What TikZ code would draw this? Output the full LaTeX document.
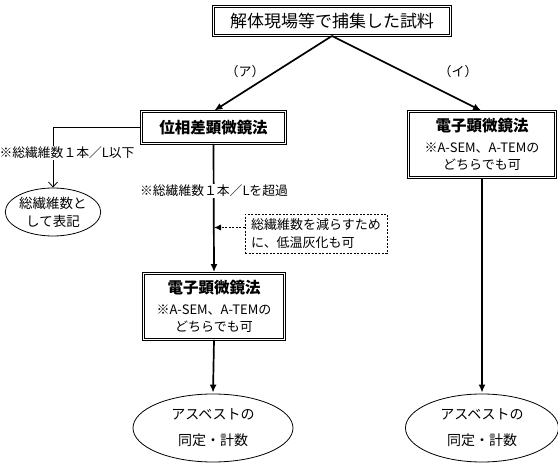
\documentclass[tikz,border=0pt]{standalone}
\usepackage{fontspec}
\setmainfont{Noto Sans CJK JP}
\usetikzlibrary{arrows.meta,shapes.geometric}
\tikzset{
	kbox/.style={draw, line width=0.9pt, double, double distance=1.3pt, align=center, inner sep=0pt},
	oval/.style={draw, ellipse, line width=0.8pt, align=center, inner sep=0pt, font=\fontsize{14}{26}\selectfont},
	memo/.style={draw, dashed, dash pattern=on 2pt off 1.5pt, line width=0.8pt, align=left, inner sep=0pt, minimum width=142, minimum height=39, font=\fontsize{13}{18}\selectfont},
	lbl/.style={fill=white, inner sep=1pt, font=\fontsize{12.8}{15}\selectfont},
	flow/.style={line width=1.7pt, -{Latex[length=8pt,width=7pt]}, shorten >=1pt},
	thin/.style={line width=0.8pt, -{Straight Barb[length=5pt,width=9pt]}},
	hint/.style={line width=0.8pt, dashed, dash pattern=on 2pt off 1.5pt, -{Latex[length=7pt,width=6pt]}}
}
\begin{document}
\begin{tikzpicture}[x=1pt,y=-1pt]
			\useasboundingbox (0,0) rectangle (558,463);
			\node[kbox, minimum width=237, minimum height=29, font=\fontsize{17}{20}\selectfont] (src) at (332,21) {解体現場等で捕集した試料};
			\node[kbox, minimum width=144, minimum height=32, font=\fontsize{15.5}{18}\selectfont\bfseries] (pcm) at (213.5,127.5) {位相差顕微鏡法};
			\node[kbox, minimum width=141, minimum height=66, font=\fontsize{13}{17.5}\selectfont] (em) at (214,306.5) {{\fontsize{15.5}{18}\selectfont\bfseries 電子顕微鏡法}\\[3pt]※A-SEM、A-TEMの\\どちらでも可};
			\node[kbox, minimum width=147, minimum height=66, font=\fontsize{13}{17.5}\selectfont] (sem) at (482,144.5) {{\fontsize{15.5}{18}\selectfont\bfseries 電子顕微鏡法}\\[3pt]※A-SEM、A-TEMの\\どちらでも可};
			\node[oval, minimum width=92, minimum height=48, font=\fontsize{13.5}{18}\selectfont] (tot) at (53,212) {総繊維数と\\して表記};
			\node[oval, minimum width=160, minimum height=68] (as1) at (213,428) {アスベストの\\同定・計数};
			\node[oval, minimum width=153, minimum height=68] (as2) at (482,428) {アスベストの\\同定・計数};
			\node[memo] (ash) at (316,233.5) {総繊維数を減らすため\\に、低温灰化も可};
			\node[font=\fontsize{13}{15}\selectfont] (ka) at (245,72) {（ア）};
			\node[font=\fontsize{13}{15}\selectfont] (ki) at (458,72) {（イ）};
			\draw[flow] (src.south) -- (pcm.north);
			\draw[flow] (src.south) -- (sem.north);
			\draw[thin] (pcm.west) -| (tot.north);
			\draw[flow] (pcm.south) -- (em.north);
			\draw[hint] ([yshift=6pt]ash.west) -- ([yshift=6pt]ash.west -| em.north);
			\draw[flow] (em.south) -- (as1.north);
			\draw[flow] (sem.south) -- (as2.north);
			\node[lbl] (le) at (67,153) {※総繊維数１本／L以下};
			\node[lbl] (gt) at (214,191) {※総繊維数１本／Lを超過};
\end{tikzpicture}
\end{document}
